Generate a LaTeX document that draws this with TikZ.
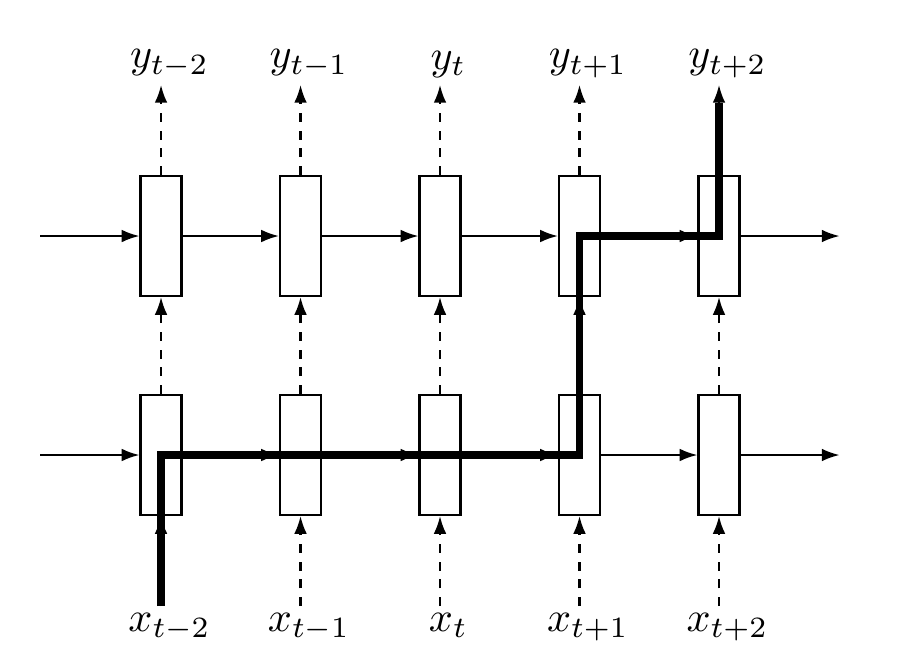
\documentclass[tikz,border=0pt]{standalone}
\usetikzlibrary{positioning,arrows.meta}
\tikzset{
  cell/.style={draw,line width=0.5pt,minimum width=0.342cm,minimum height=1cm,inner sep=0pt},
  flow/.style={-{Latex[length=4.2pt,width=3pt]},line width=0.5pt},
  dashflow/.style={-{Latex[length=4.2pt,width=3pt]},line width=0.5pt,dash pattern=on 2.1pt off 2.1pt},
  lab/.style={inner sep=1.5pt},
  route/.style={line width=1.85pt,shorten >=4.2pt}
}

\begin{document}
\begin{tikzpicture}
  \useasboundingbox (-1.342,-3.625) rectangle (6.2,1.967);
  % two rows of cells
  \foreach \i in {1,...,5} {
    \node[cell] (hi\i) at ({(\i-1)*1.1625},0) {};
    \node[cell] (lo\i) at ({(\i-1)*1.1625},-1.825) {};
  }
  % outputs and inputs
  \foreach \i/\s in {1/{t-2},2/{t-1},3/t,4/{t+1},5/{t+2}} {
    \node[lab,above=0.75cm of hi\i,xshift=2pt] (y\i) {$y_{\s}$};
    \node[lab,below=0.75cm of lo\i,xshift=2pt] (x\i) {$x_{\s}$};
    \draw[dashflow] (hi\i) -- (hi\i |- y\i.south);
    \draw[dashflow] (lo\i) -- (hi\i);
    \draw[dashflow] (lo\i |- x\i.north) -- (lo\i);
  }
  % recurrent links
  \coordinate[left=0.825cm of hi1] (hin);
  \coordinate[left=0.825cm of lo1] (lin);
  \coordinate[right=0.825cm of hi5] (hout);
  \coordinate[right=0.825cm of lo5] (lout);
  \draw[flow] (hin) -- (hi1);
  \draw[flow] (lin) -- (lo1);
  \foreach \i [evaluate=\i as \j using int(\i+1)] in {1,...,4} {
    \draw[flow] (hi\i) -- (hi\j);
    \draw[flow] (lo\i) -- (lo\j);
  }
  \draw[flow] (hi5) -- (hout);
  \draw[flow] (lo5) -- (lout);
  % highlighted path
  \draw[route] (lo1 |- x1.north) -- (lo1.center) -- (lo4.center)
    -- (hi4.center) -- (hi5.center) -- (hi5 |- y5.south);
\end{tikzpicture}
\end{document}
